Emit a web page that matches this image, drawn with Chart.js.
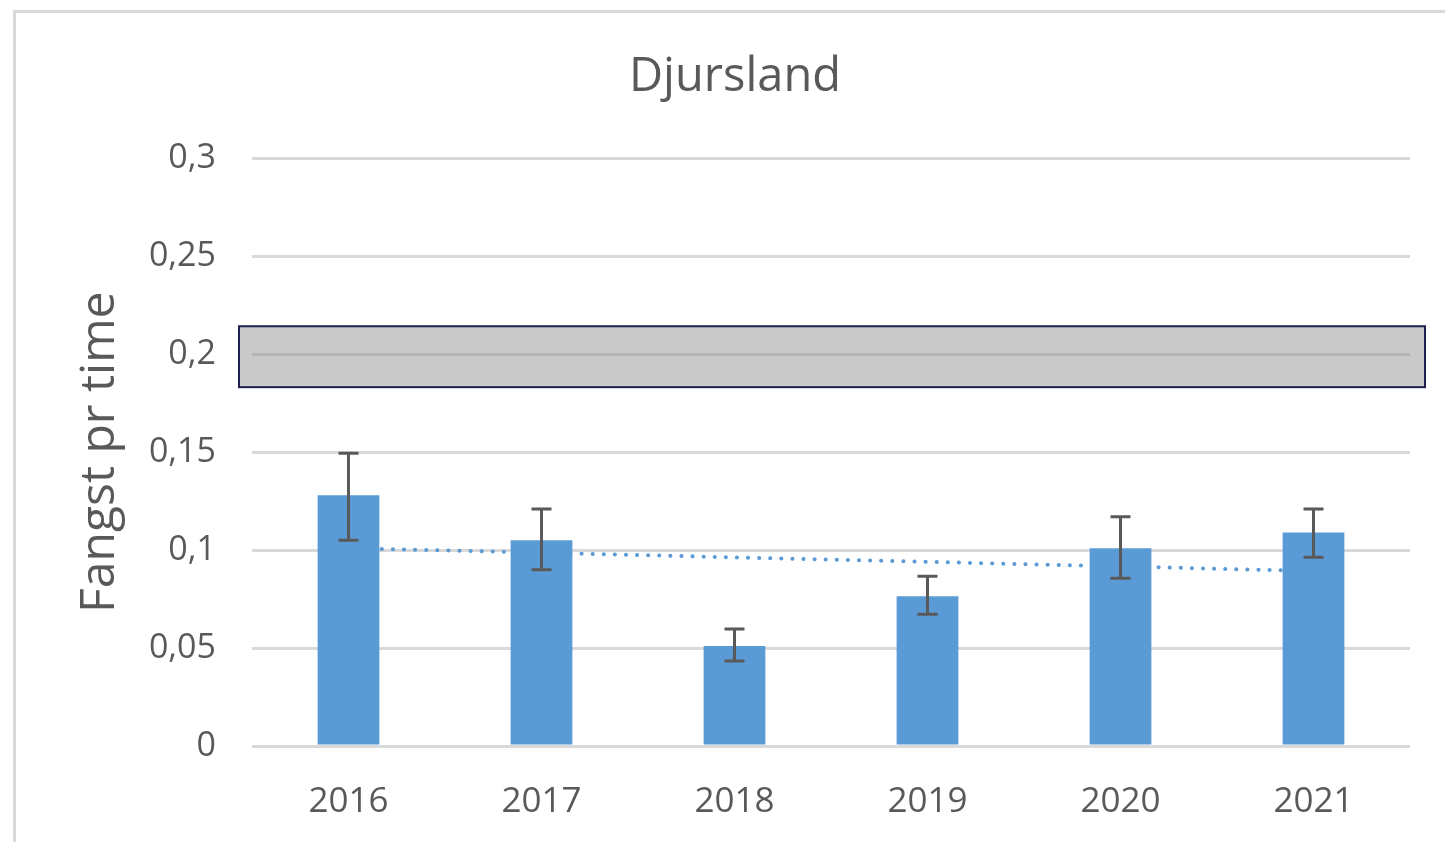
<!DOCTYPE html>
<html>
<head>
<meta charset="utf-8">
<script src="https://cdn.jsdelivr.net/npm/chart.js@4.4.1/dist/chart.umd.min.js"></script>
<style>
    html, body { margin: 0; padding: 0; background: #fff; }
    #wrap { position: relative; width: 1445px; height: 842px; overflow: hidden; }
    #frame { position: absolute; left: 13px; top: 10px; width: 1500px; height: 900px; border: 3px solid #d9d9d9; box-sizing: border-box; }
    #chartDjursland { position: absolute; left: 0; top: 0; }
</style>
</head>
<body>
<div id="wrap">
    <div id="frame"></div>
    <canvas id="chartDjursland" width="1445" height="842"></canvas>
</div>
<script>
// Data
const years = ['2016', '2017', '2018', '2019', '2020', '2021'];
const fangst = [0.128, 0.105, 0.051, 0.0765, 0.101, 0.109];
const fejlOver = [0.1495, 0.121, 0.0597, 0.0867, 0.117, 0.121];
const fejlUnder = [0.105, 0.090, 0.0434, 0.0673, 0.0857, 0.0964];
const trend = [0.101, 0.0987, 0.0963, 0.094, 0.0917, 0.0893];
const yTickLabels = ['0', '0,05', '0,1', '0,15', '0,2', '0,25', '0,3'];
const baand = [0.1832, 0.2143]; // grå referencebånd

const fontFam = '"Open Sans", "Liberation Sans", sans-serif';
const tekstFarve = '#595959';

// Fejlstænger tegnes oven på søjlerne
const fejlPlugin = {
    id: 'fejlstaenger',
    afterDatasetsDraw(chart) {
        const ctx = chart.ctx;
        const y = chart.scales.y;
        const meta = chart.getDatasetMeta(1);
        ctx.save();
        ctx.strokeStyle = '#595959';
        ctx.lineWidth = 3;
        meta.data.forEach((bar, i) => {
            const x = bar.x;
            const yTop = y.getPixelForValue(fejlOver[i]);
            const yBot = y.getPixelForValue(fejlUnder[i]);
            ctx.beginPath();
            ctx.moveTo(x, yTop); ctx.lineTo(x, yBot);
            ctx.moveTo(x - 10, yTop); ctx.lineTo(x + 10, yTop);
            ctx.moveTo(x - 10, yBot); ctx.lineTo(x + 10, yBot);
            ctx.stroke();
        });
        ctx.restore();
    }
};

// Gråt bånd omkring 0,2
const baandPlugin = {
    id: 'baand',
    afterDatasetsDraw(chart) {
        const ctx = chart.ctx;
        const area = chart.chartArea;
        const y = chart.scales.y;
        const top = y.getPixelForValue(baand[1]);
        const bot = y.getPixelForValue(baand[0]);
        const left = area.left - 13;
        const right = area.right + 15;
        ctx.save();
        ctx.fillStyle = 'rgba(140,140,140,0.46)';
        ctx.fillRect(left, top, right - left, bot - top);
        ctx.strokeStyle = '#1f1f4f';
        ctx.lineWidth = 2;
        ctx.strokeRect(left, top, right - left, bot - top);
        ctx.restore();
    }
};

const ctxDjursland = document.getElementById('chartDjursland').getContext('2d');
new Chart(ctxDjursland, {
    type: 'bar',
    data: {
        labels: years,
        datasets: [{
            type: 'line',
            label: 'Tendens',
            data: trend,
            borderColor: '#5b9bd5',
            borderWidth: 4,
            borderDash: [0.1, 11],
            borderCapStyle: 'round',
            pointRadius: 0,
            fill: false,
            order: 2
        }, {
            label: 'Fangst pr time',
            data: fangst,
            backgroundColor: '#5b9bd5',
            categoryPercentage: 1,
            barPercentage: 0.32,
            order: 1
        }]
    },
    options: {
        responsive: false,
        animation: false,
        layout: { padding: { top: 10, right: 5, left: 30, bottom: 0 } },
        plugins: {
            legend: { display: false },
            tooltip: { enabled: false },
            title: {
                display: true,
                text: 'Djursland',
                color: tekstFarve,
                font: { family: fontFam, size: 47, weight: 'normal' },
                padding: { top: 39, bottom: 53 }
            }
        },
        scales: {
            x: {
                grid: { display: false },
                border: { display: false },
                ticks: { color: tekstFarve, font: { family: fontFam, size: 35 }, padding: 27 },
                afterFit(scale) { scale.height = 96; }
            },
            y: {
                min: 0,
                max: 0.3,
                ticks: {
                    stepSize: 0.05,
                    color: tekstFarve,
                    font: { family: fontFam, size: 34 },
                    padding: 36,
                    callback: (v, i) => yTickLabels[i]
                },
                grid: { color: '#d9d9d9', lineWidth: 3, drawTicks: false },
                border: { display: false },
                title: {
                    display: true,
                    text: 'Fangst pr time',
                    color: tekstFarve,
                    font: { family: fontFam, size: 48, weight: 'normal' },
                    padding: { top: 42, bottom: 0 }
                },
                afterFit(scale) { scale.width = 222; }
            },
            // tom højre akse, så titlen centreres som i originalen
            y2: {
                position: 'right',
                grid: { display: false },
                border: { display: false },
                ticks: { display: false },
                afterFit(scale) { scale.width = 30; }
            }
        }
    },
    plugins: [fejlPlugin, baandPlugin]
});
</script>
</body>
</html>
